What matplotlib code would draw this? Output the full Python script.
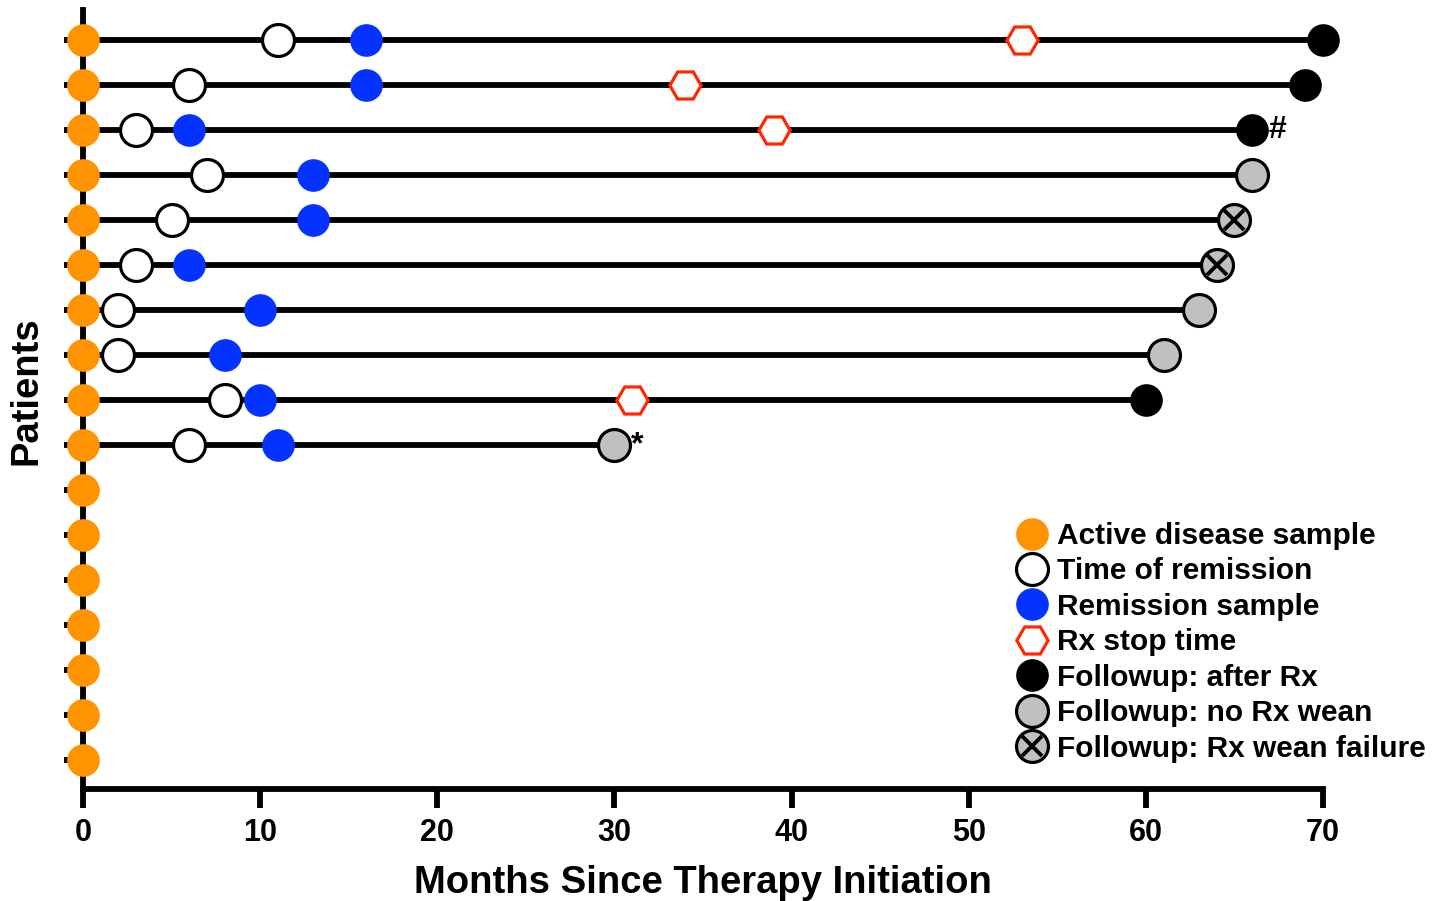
import numpy as np
import matplotlib as mpl
import matplotlib.pyplot as plt
from matplotlib.lines import Line2D

mpl.rcParams['font.family'] = ['Liberation Sans', 'DejaVu Sans']
mpl.rcParams['font.weight'] = 'bold'

# data, one entry per patient with followup (top to bottom)
remission = [11, 6, 3, 7, 5, 3, 2, 2, 8, 6]
remission_sample = [16, 16, 6, 13, 13, 6, 10, 8, 10, 11]
rx_stop = [53, 34, 39, None, None, None, None, None, 31, None]
followup = [70, 69, 66, 66, 65, 64, 63, 61, 60, 30]
followup_type = ['after', 'after', 'after', 'no_wean', 'fail', 'fail',
                 'no_wean', 'no_wean', 'after', 'no_wean']
notes = {2: '#', 9: '*'}
n_patients = 17

ORANGE = '#ff9400'
BLUE = '#0433ff'
RED = '#ff2600'
GRAY = '#c0c0c0'

fig = plt.figure(figsize=(14.41, 9.01), dpi=100)
ax = fig.add_axes([0.0576, 0.1243, 0.8605, 0.8647])

ypos = np.arange(n_patients, 0, -1)
lw = 4.2
ms = 23.5
mew = 2.3

for i, y in enumerate(ypos[:len(followup)]):
    ax.plot([0, followup[i]], [y, y], color='black', lw=lw, zorder=1,
            solid_capstyle='butt', clip_on=False)

# active disease sample
ax.plot(np.zeros(n_patients), ypos, 'o', color=ORANGE, ms=ms, mew=0,
        zorder=3, clip_on=False)
yrows = ypos[:len(followup)]
ax.plot(remission, yrows, 'o', mfc='white', mec='black', ms=ms - 0.5,
        mew=mew, zorder=3, clip_on=False)
ax.plot(remission_sample, yrows, 'o', color=BLUE, ms=ms, mew=0, zorder=4,
        clip_on=False)
stop_x = [x for x in rx_stop if x is not None]
stop_y = [y for x, y in zip(rx_stop, yrows) if x is not None]
ax.plot(stop_x, stop_y, 'H', mfc='white', mec=RED, ms=ms - 1, mew=mew,
        zorder=3, clip_on=False)

for kind in ['after', 'no_wean', 'fail']:
    xs = [f for f, t in zip(followup, followup_type) if t == kind]
    ys = [y for t, y in zip(followup_type, yrows) if t == kind]
    if kind == 'after':
        ax.plot(xs, ys, 'o', color='black', ms=ms, mew=0, zorder=3,
                clip_on=False)
    else:
        ax.plot(xs, ys, 'o', mfc=GRAY, mec='black', ms=ms - 0.5, mew=mew,
                zorder=3, clip_on=False)
        if kind == 'fail':
            ax.plot(xs, ys, 'x', color='black', ms=14, mew=2.8, zorder=4,
                    clip_on=False)

for i, txt in notes.items():
    ax.text(followup[i] + 0.95, yrows[i], txt, fontsize=23,
            fontweight='bold', va='center', ha='left')

ax.set_xlim(0, 70)
ax.set_ylim(0.356, 17.667)
ax.set_xticks(np.arange(0, 71, 10))
ax.set_yticks(ypos)
ax.set_yticklabels([])
ax.spines['top'].set_visible(False)
ax.spines['right'].set_visible(False)
for s in ['left', 'bottom']:
    ax.spines[s].set_linewidth(lw)
ax.tick_params(axis='both', width=lw, length=14, labelsize=22)
ax.tick_params(axis='x', pad=7)
ax.set_xlabel('Months Since Therapy Initiation', fontsize=27.5,
              fontweight='bold', labelpad=12)
ax.set_ylabel('Patients', fontsize=27.5, fontweight='bold')
ax.yaxis.set_label_coords(-0.031, 0.511)

handles = [
    Line2D([], [], ls='none', marker='o', color=ORANGE, ms=ms, mew=0),
    Line2D([], [], ls='none', marker='o', mfc='white', mec='black',
           ms=ms - 0.5, mew=mew),
    Line2D([], [], ls='none', marker='o', color=BLUE, ms=ms, mew=0),
    Line2D([], [], ls='none', marker='H', mfc='white', mec=RED,
           ms=ms - 1, mew=mew),
    Line2D([], [], ls='none', marker='o', color='black', ms=ms, mew=0),
    Line2D([], [], ls='none', marker='o', mfc=GRAY, mec='black',
           ms=ms - 0.5, mew=mew),
    (Line2D([], [], ls='none', marker='o', mfc=GRAY, mec='black',
            ms=ms - 0.5, mew=mew),
     Line2D([], [], ls='none', marker='x', color='black', ms=14, mew=2.8)),
]
labels = ['Active disease sample', 'Time of remission', 'Remission sample',
          'Rx stop time', 'Followup: after Rx', 'Followup: no Rx wean',
          'Followup: Rx wean failure']
fig.legend(handles, labels, loc='upper left',
           bbox_to_anchor=(1017 / 1441, 1 - 522 / 901), frameon=False,
           fontsize=21.5, handlelength=1.0, handletextpad=0.35,
           labelspacing=0.25, borderpad=0, borderaxespad=0)

fig.savefig('out.png', dpi=100)
